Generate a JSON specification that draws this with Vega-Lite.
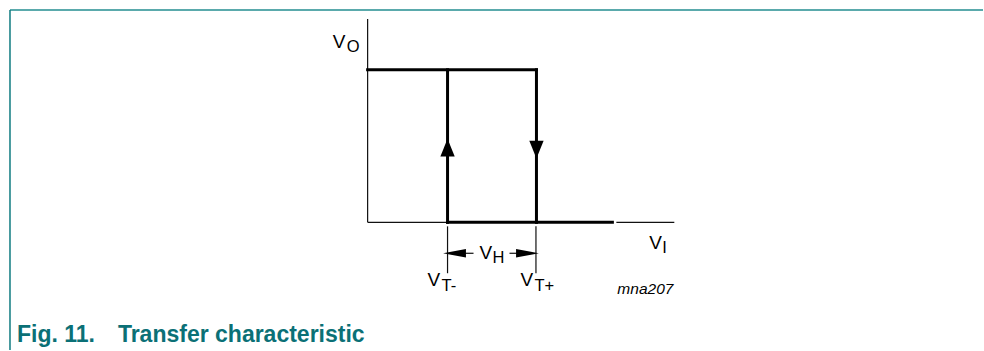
{
  "$schema": "https://vega.github.io/schema/vega-lite/v6.json",
  "width": 984,
  "height": 351,
  "autosize": {"type": "fit", "contains": "padding"},
  "padding": 0,
  "background": "white",
  "config": {"view": {"stroke": null}, "text": {"font": "Liberation Sans"}},
  "encoding": {
    "x": {"field": "x", "type": "quantitative", "scale": {"domain": [-36.8, 61.6], "nice": false, "zero": false}, "axis": null},
    "y": {"field": "y", "type": "quantitative", "scale": {"domain": [-12.8, 22.3], "nice": false, "zero": false}, "axis": null}
  },
  "layer": [
    {
      "description": "figure frame: top rule",
      "data": {"values": [{"x": -35.8, "x2": 61.6, "y": 21.3, "y2": 21.3}]},
      "mark": {"type": "rule", "color": "#5aaaac", "strokeWidth": 2},
      "encoding": {"x2": {"field": "x2"}, "y2": {"field": "y2"}}
    },
    {
      "description": "figure frame: left rule",
      "data": {"values": [{"x": -35.8, "x2": -35.8, "y": 21.3, "y2": -12.8}]},
      "mark": {"type": "rule", "color": "#0e7b80", "strokeWidth": 1.5},
      "encoding": {"x2": {"field": "x2"}, "y2": {"field": "y2"}}
    },
    {
      "description": "V_O and V_I axes",
      "data": {"values": [
        {"x": 0, "x2": 0, "y": 0, "y2": 20.4},
        {"x": 0, "x2": 8.0, "y": 0, "y2": 0},
        {"x": 24.9, "x2": 30.7, "y": 0, "y2": 0}
      ]},
      "mark": {"type": "rule", "color": "#111111", "strokeWidth": 1.2},
      "encoding": {"x2": {"field": "x2"}, "y2": {"field": "y2"}}
    },
    {
      "description": "threshold marker lines and hysteresis width arrows",
      "data": {"values": [
        {"x": 8.0, "x2": 8.0, "y": -0.4, "y2": -5.1},
        {"x": 16.85, "x2": 16.85, "y": -0.4, "y2": -5.1},
        {"x": 8.9, "x2": 10.6, "y": -3.1, "y2": -3.1},
        {"x": 14.2, "x2": 15.9, "y": -3.1, "y2": -3.1}
      ]},
      "mark": {"type": "rule", "color": "#111111", "strokeWidth": 1.2},
      "encoding": {"x2": {"field": "x2"}, "y2": {"field": "y2"}}
    },
    {
      "description": "hysteresis loop",
      "data": {"values": [
        {"x": 0, "x2": 16.9, "y": 15.3, "y2": 15.3},
        {"x": 8.0, "x2": 8.0, "y": 0, "y2": 15.3},
        {"x": 16.9, "x2": 16.9, "y": 0, "y2": 15.3},
        {"x": 8.0, "x2": 24.5, "y": 0, "y2": 0}
      ]},
      "mark": {"type": "rule", "color": "#000000", "strokeWidth": 3, "strokeCap": "square"},
      "encoding": {"x2": {"field": "x2"}, "y2": {"field": "y2"}}
    },
    {
      "description": "rising transition arrow",
      "data": {"values": [{"x": 8.0, "y": 7.5}]},
      "mark": {"type": "point", "shape": "M-0.8,1L0,-1L0.8,1Z", "size": 320, "filled": true, "color": "#000000", "opacity": 1}
    },
    {
      "description": "falling transition arrow",
      "data": {"values": [{"x": 16.9, "y": 7.3}]},
      "mark": {"type": "point", "shape": "M-0.8,-1L0,1L0.8,-1Z", "size": 320, "filled": true, "color": "#000000", "opacity": 1}
    },
    {
      "description": "V_H arrow heads",
      "data": {"values": [{"x": 8.7, "y": -3.1, "dir": "left"}, {"x": 16.0, "y": -3.1, "dir": "right"}]},
      "mark": {"type": "point", "size": 520, "filled": true, "color": "#000000", "opacity": 1},
      "encoding": {
        "shape": {"field": "dir", "type": "nominal", "scale": {"domain": ["left", "right"], "range": ["M-1,0L1,-0.38L1,0.38Z", "M1,0L-1,-0.38L-1,0.38Z"]}, "legend": null}
      }
    },
    {
      "description": "symbol letters",
      "data": {"values": [
        {"x": -3.5, "y": 17.5, "t": "V"},
        {"x": 28.2, "y": -2.7, "t": "V"},
        {"x": 11.2, "y": -3.7, "t": "V"},
        {"x": 6.0, "y": -6.4, "t": "V"},
        {"x": 15.3, "y": -6.4, "t": "V"}
      ]},
      "mark": {"type": "text", "fontSize": 19, "align": "left", "baseline": "alphabetic", "color": "#000000"},
      "encoding": {"text": {"field": "t"}}
    },
    {
      "description": "subscripts",
      "data": {"values": [
        {"x": -2.1, "y": 17.1, "t": "O"},
        {"x": 29.5, "y": -3.1, "t": "I"},
        {"x": 12.5, "y": -4.1, "t": "H"},
        {"x": 7.4, "y": -6.9, "t": "T-"},
        {"x": 16.7, "y": -6.9, "t": "T+"}
      ]},
      "mark": {"type": "text", "fontSize": 16.5, "align": "left", "baseline": "alphabetic", "color": "#000000"},
      "encoding": {"text": {"field": "t"}}
    },
    {
      "description": "drawing reference",
      "data": {"values": [{"x": 25.0, "y": -7.2, "t": "mna207"}]},
      "mark": {"type": "text", "fontSize": 15.5, "fontStyle": "italic", "align": "left", "baseline": "alphabetic", "color": "#000000"},
      "encoding": {"text": {"field": "t"}}
    },
    {
      "description": "figure caption",
      "data": {"values": [
        {"x": -35.1, "y": -12.0, "t": "Fig. 11."},
        {"x": -25.0, "y": -12.0, "t": "Transfer characteristic"}
      ]},
      "mark": {"type": "text", "fontSize": 23, "fontWeight": "bold", "align": "left", "baseline": "alphabetic", "color": "#0b7076"},
      "encoding": {"text": {"field": "t"}}
    }
  ]
}
